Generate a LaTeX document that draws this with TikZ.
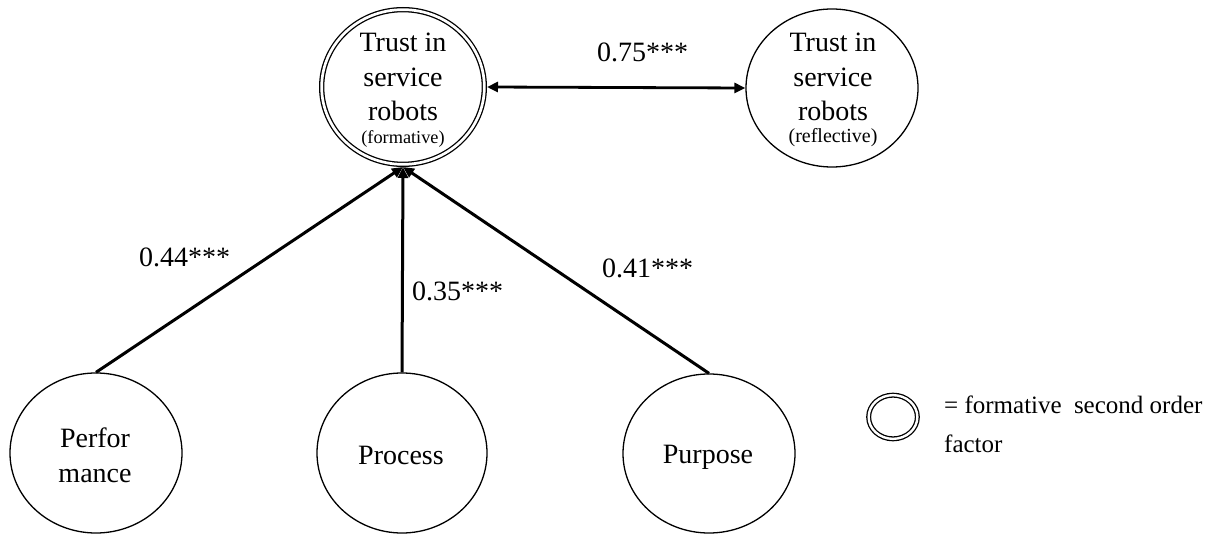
\documentclass[tikz,border=0pt]{standalone}
\usepackage{fontspec}
\setmainfont{Liberation Serif}
\usetikzlibrary{arrows.meta,shapes.geometric}
\tikzset{
  lat/.style={draw, ellipse, line width=1.3pt, inner sep=0pt, outer sep=0.65pt},
  dbl/.style={draw, ellipse, double, line width=1.3pt, double distance=2.7pt, inner sep=0pt, outer sep=2.65pt},
  conn/.style={line width=3pt, -{Triangle[length=11pt,width=10pt]}},
  biconn/.style={line width=2.8pt, {Triangle[length=11pt,width=10pt]}-{Triangle[length=11pt,width=10pt]}},
  bigtxt/.style={inner sep=0pt, align=center, font=\fontsize{28}{34.5}\selectfont},
  smalltxt/.style={inner sep=0pt, font=\fontsize{18.3}{22}\selectfont},
  coef/.style={inner sep=0pt, anchor=base west, font=\fontsize{28}{34}\selectfont},
  legtxt/.style={inner sep=0pt, align=left, font=\fontsize{25}{39}\selectfont}
}
\begin{document}
\begin{tikzpicture}[x=1pt,y=-1pt]
\useasboundingbox (0,0) rectangle (1210,534);
% latent variables
\node[dbl, minimum width=162.7pt, minimum height=154.7pt] (F) at (403,87) {};
\node[lat, minimum width=172pt, minimum height=158pt] (R) at (832,88) {};
\node[lat, minimum width=172pt, minimum height=160pt] (Pf) at (96,453) {};
\node[lat, minimum width=170pt, minimum height=160pt] (Pc) at (402,453) {};
\node[lat, minimum width=172pt, minimum height=159pt] (Pp) at (709,453.5) {};
% texts
\node[bigtxt, anchor=north] (Ft) at (403,33) {Trust in\\service\\robots};
\node[smalltxt, anchor=base] (Ftf) at (403,144) {(formative)};
\node[bigtxt, anchor=north] (Rt) at (833,33) {Trust in\\service\\robots};
\node[smalltxt, anchor=base, font=\fontsize{20}{24}\selectfont] (Rtf) at (833,143) {(reflective)};
\node[bigtxt, anchor=north] (Pft) at (95,428) {Perfor\\mance};
\node[bigtxt, anchor=base] (Pct) at (401,464) {Process};
\node[bigtxt, anchor=base] (Ppt) at (708,463) {Purpose};
% connectors
\draw[conn] (Pf.north) -- (F.south);
\draw[conn] (Pc.north) -- (F.south);
\draw[conn] (Pp.north) -- (F.south);
\draw[biconn] (F.east) -- (R.west);
% coefficients
\node[coef] (c44) at (139,267) {0.44***};
\node[coef] (c35) at (412,301) {0.35***};
\node[coef] (c41) at (602,278) {0.41***};
\node[coef] (c75) at (597,62) {0.75***};
% legend
\node[dbl, line width=1.3pt, double distance=2.4pt, minimum width=48.7pt, minimum height=43.7pt] (L) at (893,417) {};
\node[legtxt, anchor=north west] (Lt) at (944,396) {= formative\hspace{6pt} second order\\factor};
\end{tikzpicture}
\end{document}
